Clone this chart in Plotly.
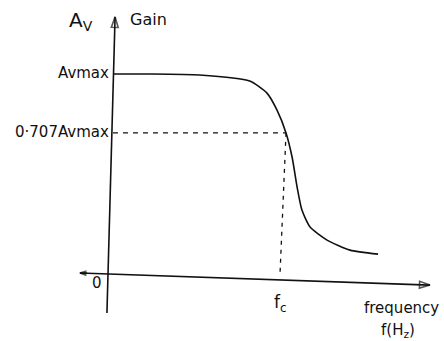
import plotly.graph_objects as go

# Normalised low-pass response: frequency in units of fc, gain in units of Av(max)
freq = [0.0, 0.21, 0.50, 0.79, 0.89, 0.948, 1.0, 1.035, 1.064, 1.092, 1.139, 1.237, 1.37, 1.532]
gain = [1.0, 1.0, 0.995, 0.965, 0.905, 0.82, 0.707, 0.587, 0.438, 0.323, 0.239, 0.174, 0.124, 0.104]

fc = 1.0
half_power = 0.707
gain_labels = ["Avmax", "0·707Avmax"]
gain_levels = [1.0, half_power]

INK = "#111111"
FONT = "DejaVu Sans"

fig = go.Figure()

def pen(xs, ys, width=1.6, dash=None, head=0):
    """Draw a stroke; an optional open arrowhead sits on its last point."""
    fig.add_trace(go.Scatter(
        x=xs, y=ys, mode="lines+markers" if head else "lines",
        line=dict(color=INK, width=width, dash=dash),
        marker=dict(symbol="arrow-open", angleref="previous", size=[0] * (len(xs) - 1) + [head],
                    color=INK, line=dict(color=INK, width=1.6)),
        hoverinfo="skip", showlegend=False))

# hand-drawn axes
pen([-0.035, 0.012], [-0.189, 1.284], head=11)
pen([-0.191, 1.832], [0.01, -0.05], head=11)
pen([-0.15, -0.191], [0.009, 0.01], head=6)

# response curve
fig.add_trace(go.Scatter(x=freq, y=gain, mode="lines",
                         line=dict(color=INK, width=1.6, shape="spline", smoothing=0.6),
                         hoverinfo="skip", showlegend=False))

# -3 dB guide lines
pen([0.0, fc], [half_power, half_power], width=1.3, dash="5px,5px")
pen([fc, fc - 0.035], [half_power, 0.0], width=1.3, dash="4px,5px")

def label(x, y, text, size, xanchor="center"):
    fig.add_annotation(x=x, y=y, xref="x", yref="y", text=text, showarrow=False,
                       font=dict(family=FONT, size=size, color=INK), xanchor=xanchor, yanchor="middle")

# gain axis labels
label(-0.105, 1.265, "A<sub>V</sub>", 20, xanchor="right")
label(0.085, 1.27, "Gain", 16, xanchor="left")
for txt, lvl in zip(gain_labels, gain_levels):
    label(-0.012, lvl + 0.005, txt, 15, xanchor="right")

# frequency axis labels
label(-0.09, -0.04, "0", 15)
label(fc - 0.03, -0.14, "f<sub>c</sub>", 17)
label(1.67, -0.165, "frequency", 15)
label(1.65, -0.275, "f(H<sub>z</sub>)", 15)

fig.update_xaxes(range=[-0.653, 1.913], visible=False, showgrid=False, zeroline=False)
fig.update_yaxes(range=[-0.328, 1.368], visible=False, showgrid=False, zeroline=False)
fig.update_layout(width=444, height=341, margin=dict(l=0, r=0, t=0, b=0),
                  paper_bgcolor="white", plot_bgcolor="white", autosize=False)

fig.write_html("out.html")
